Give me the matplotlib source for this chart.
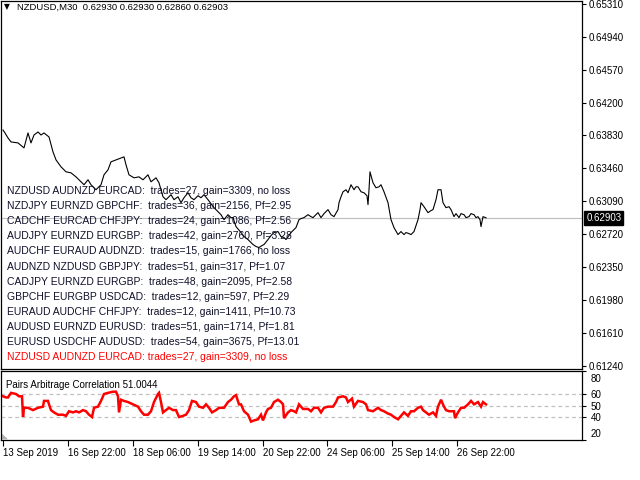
import matplotlib
matplotlib.use("Agg")
import matplotlib.pyplot as plt
from matplotlib.patches import Polygon
from matplotlib.transforms import ScaledTranslation

plt.rcParams['font.family'] = ['Liberation Sans', 'DejaVu Sans']

# ---- data ----
price_bars = [2, 4, 7, 10, 17, 23, 27, 30, 33, 37, 40, 43, 48, 52, 55, 60, 65, 70, 75, 80,
              83, 87, 90, 95, 100, 103, 107, 110, 115, 120, 123, 125, 128, 133, 138, 142, 147, 150, 155, 158,
              162, 165, 170, 173, 177, 180, 183, 187, 190, 193, 197, 200, 203, 207, 210, 213, 217, 220, 223, 227,
              230, 232, 235, 240, 243, 247, 250, 252, 255, 258, 261, 263, 267, 270, 273, 277, 280, 283, 285, 288,
              290, 293, 295, 298, 300, 303, 307, 310, 312, 315, 317, 320, 323, 325, 327, 330, 333, 337, 338, 340,
              342, 345, 347, 350, 353, 355, 357, 360, 363, 366, 367, 368, 369, 372, 375, 378, 380, 383, 387, 390,
              393, 397, 400, 403, 405, 408, 410, 413, 417, 419, 420, 423, 427, 430, 432, 435, 437, 440, 442, 445,
              448, 450, 453, 455, 458, 460, 463, 465, 468, 470, 473, 475, 477, 479, 480, 482, 485]
price_close = [0.63891, 0.63858, 0.63802, 0.63757, 0.63746, 0.63690, 0.63858, 0.63746, 0.63835, 0.63869,
               0.63835, 0.63858, 0.63813, 0.63645, 0.63555, 0.63477, 0.63421, 0.63409, 0.63364, 0.63308,
               0.63275, 0.63331, 0.63275, 0.63219, 0.63275, 0.63387, 0.63443, 0.63533, 0.63555, 0.63578,
               0.63589, 0.63499, 0.63387, 0.63353, 0.63364, 0.63331, 0.63387, 0.63308, 0.63353, 0.63297,
               0.63140, 0.63107, 0.63163, 0.63107, 0.63140, 0.63073, 0.63129, 0.63185, 0.63129, 0.63107,
               0.63151, 0.63129, 0.63163, 0.63107, 0.63062, 0.63017, 0.62972, 0.62938, 0.62882, 0.62938,
               0.62905, 0.62905, 0.62804, 0.62737, 0.62692, 0.62658, 0.62625, 0.62602, 0.62580, 0.62568,
               0.62591, 0.62602, 0.62658, 0.62703, 0.62737, 0.62748, 0.62692, 0.62681, 0.62658, 0.62703,
               0.62737, 0.62770, 0.62793, 0.62882, 0.62894, 0.62905, 0.62938, 0.62916, 0.62905, 0.62938,
               0.62961, 0.62905, 0.62950, 0.62972, 0.62995, 0.62938, 0.62916, 0.62995, 0.63073, 0.63140,
               0.63196, 0.63219, 0.63185, 0.63275, 0.63219, 0.63252, 0.63252, 0.63196, 0.63185, 0.63151,
               0.63051, 0.63219, 0.63421, 0.63297, 0.63241, 0.63252, 0.63275, 0.63196, 0.63073, 0.62882,
               0.62793, 0.62714, 0.62748, 0.62714, 0.62737, 0.62725, 0.62714, 0.62748, 0.62882, 0.62995,
               0.63073, 0.63028, 0.62961, 0.62984, 0.62995, 0.63107, 0.63219, 0.63219, 0.63073, 0.63017,
               0.63028, 0.62995, 0.62916, 0.62950, 0.62905, 0.62950, 0.62938, 0.62905, 0.62916, 0.62950,
               0.62938, 0.62905, 0.62916, 0.62882, 0.62804, 0.62916, 0.62903]

corr_bars = [2, 5, 7, 10, 15, 18, 21, 22, 23, 27, 32, 37, 42, 43, 47, 48, 50, 53, 57, 62,
             65, 68, 72, 75, 78, 82, 85, 88, 91, 93, 97, 100, 103, 107, 112, 115, 117, 118, 120, 123,
             127, 132, 137, 140, 143, 147, 150, 153, 157, 158, 160, 162, 165, 168, 172, 175, 178, 182, 185, 188,
             191, 195, 198, 202, 205, 208, 211, 215, 218, 223, 227, 230, 233, 235, 238, 240, 243, 247, 250, 253,
             257, 260, 262, 265, 267, 270, 273, 277, 280, 282, 283, 287, 290, 293, 295, 298, 302, 307, 310, 313,
             317, 320, 323, 327, 332, 335, 337, 342, 345, 347, 351, 353, 357, 362, 365, 367, 372, 377, 380, 383,
             387, 390, 393, 397, 400, 403, 407, 410, 413, 417, 420, 422, 425, 428, 432, 435, 437, 440, 443, 445,
             448, 453, 454, 457, 460, 463, 467, 470, 473, 477, 480, 482, 485]
corr_values = [58, 57, 57, 61, 60, 58, 58, 40, 48, 48, 46, 48, 49, 54, 54, 51, 46, 44, 42, 42,
               41, 45, 44, 45, 44, 46, 45, 42, 40, 48, 49, 54, 60, 61, 62, 62, 58, 44, 55, 54,
               53, 51, 49, 45, 42, 42, 45, 53, 60, 61, 53, 44, 46, 48, 46, 46, 40, 41, 42, 46,
               54, 53, 49, 48, 51, 48, 44, 46, 48, 48, 53, 55, 58, 59, 51, 51, 45, 42, 36, 37,
               38, 42, 37, 44, 47, 48, 53, 55, 53, 51, 39, 44, 46, 45, 44, 51, 47, 47, 45, 48,
               48, 44, 48, 49, 49, 53, 57, 58, 57, 53, 56, 49, 54, 53, 51, 46, 45, 48, 46, 45,
               43, 42, 40, 38, 41, 44, 41, 45, 45, 48, 49, 46, 44, 42, 44, 41, 49, 55, 49, 46,
               45, 45, 39, 44, 48, 48, 51, 54, 51, 53, 49, 53, 51.0044]

price_ticks = [0.65310, 0.64940, 0.64570, 0.64200, 0.63830, 0.63460, 0.63090,
               0.62720, 0.62350, 0.61980, 0.61610, 0.61240]
corr_ticks = [80, 60, 50, 40, 20]
corr_levels = [60, 50, 40]
time_tick_bars = [2, 67, 132, 197, 262, 326, 391, 456]
time_tick_labels = ['13 Sep 2019', '16 Sep 22:00', '18 Sep 06:00', '19 Sep 14:00',
                    '20 Sep 22:00', '24 Sep 06:00', '25 Sep 14:00', '26 Sep 22:00']

symbol = 'NZDUSD,M30'
ohlc = ['0.62930', '0.62930', '0.62860', '0.62903']
current_price = 0.62903
corr_name = 'Pairs Arbitrage Correlation'
corr_last = '51.0044'

report_lines = [
    'NZDUSD AUDNZD EURCAD:  trades=27, gain=3309, no loss',
    'NZDJPY EURNZD GBPCHF:  trades=36, gain=2156, Pf=2.95',
    'CADCHF EURCAD CHFJPY:  trades=24, gain=1086, Pf=2.56',
    'AUDJPY EURNZD EURGBP:  trades=42, gain=2760, Pf=3.28',
    'AUDCHF EURAUD AUDNZD:  trades=15, gain=1766, no loss',
    'AUDNZD NZDUSD GBPJPY:  trades=51, gain=317, Pf=1.07',
    'CADJPY EURNZD EURGBP:  trades=48, gain=2095, Pf=2.58',
    'GBPCHF EURGBP USDCAD:  trades=12, gain=597, Pf=2.29',
    'EURAUD AUDCHF CHFJPY:  trades=12, gain=1411, Pf=10.73',
    'AUDUSD EURNZD EURUSD:  trades=51, gain=1714, Pf=1.81',
    'EURUSD USDCHF AUDUSD:  trades=54, gain=3675, Pf=13.01',
    'NZDUSD AUDNZD EURCAD: trades=27, gain=3309, no loss',
]

# ---- layout (pixel based) ----
W, H = 640, 480
fig = plt.figure(figsize=(W / 100, H / 100), dpi=100)
fig.patch.set_facecolor('white')

def box(x0, y0, x1, y1):
    return [x0 / W, 1 - y1 / H, (x1 - x0) / W, (y1 - y0) / H]

ax = fig.add_axes(box(1, 0.5, 582, 369))
sub = fig.add_axes(box(1, 371, 582, 440))

for a in (ax, sub):
    a.set_facecolor('white')
    for s in a.spines.values():
        s.set_color('black')
        s.set_linewidth(0.9)
    a.set_xlim(0, 581)

# main price chart
ax.set_ylim(0.61201, 0.65349)
ax.axhline(current_price, color='#c0c0c0', lw=0.9, zorder=1)
ax.plot(price_bars, price_close, color='black', lw=0.8, zorder=2)
ax.yaxis.tick_right()
ax.set_yticks(price_ticks)
ax.set_yticklabels([f'{t:.5f}' for t in price_ticks])
ax.tick_params(axis='y', direction='out', length=3, width=0.8, pad=2, labelsize=7, colors='black')
ax.set_xticks([])

ax.annotate(f'{current_price:.5f}', xy=(1.0, current_price),
            xycoords=('axes fraction', 'data'), xytext=(3, 0), textcoords='offset points',
            ha='left', va='center', fontsize=7, color='white',
            bbox=dict(boxstyle='square,pad=0.2', fc='black', ec='black'))

# header
fig.text(4 / W, 1 - 7 / H, '\u25BC', fontsize=5.5, family='DejaVu Sans', va='center', ha='left', color='black')
fig.text(17 / W, 1 - 7.5 / H, symbol + '  ' + ' '.join(ohlc), fontsize=6.8,
         va='center', ha='left', color='black')

# shift marker
ax.plot([521], [0.995], marker='v', ms=6, color='#a8a8a8', transform=ax.transAxes,
        clip_on=False, zorder=3)

# report text
for i, line in enumerate(report_lines):
    col = '#ff0000' if i == len(report_lines) - 1 else '#10102a'
    fig.text(7 / W, 1 - (191 + 15.1 * i) / H, line, fontsize=7.5, va='center', ha='left', color=col)

# correlation sub window
sub.set_ylim(20, 80)
for lv in corr_levels:
    sub.axhline(lv, color='#c0c0c0', lw=0.9, ls=(0, (3, 2.5)), zorder=1)
sub.plot(corr_bars, corr_values, color='#ff0000', lw=1.8, zorder=2, solid_joinstyle='miter')
sub.yaxis.tick_right()
sub.set_yticks(corr_ticks)
sub.set_yticklabels([str(t) for t in corr_ticks])
sub.tick_params(axis='y', direction='out', length=3, width=0.8, pad=3, labelsize=7, colors='black')
labs = sub.get_yticklabels()
labs[0].set_va('top')
labs[0].set_transform(labs[0].get_transform() + ScaledTranslation(0, -3 / 100, fig.dpi_scale_trans))
labs[-1].set_va('bottom')
labs[-1].set_transform(labs[-1].get_transform() + ScaledTranslation(0, 1 / 100, fig.dpi_scale_trans))
sub.set_xticks(time_tick_bars)
sub.set_xticklabels(time_tick_labels, ha='left')
sub.tick_params(axis='x', direction='out', length=4, width=0.8, pad=2, labelsize=7, colors='black')
sub.text(5 / 581, 0.80, f'{corr_name} {corr_last}', transform=sub.transAxes,
         fontsize=7, va='center', ha='left', color='black')
sub.add_patch(Polygon([[0.002, 0.01], [0.002, 0.09], [0.012, 0.01]], closed=True,
                      transform=sub.transAxes, fc='#b0b0b0', ec='none'))

fig.savefig('out.png', dpi=100)
